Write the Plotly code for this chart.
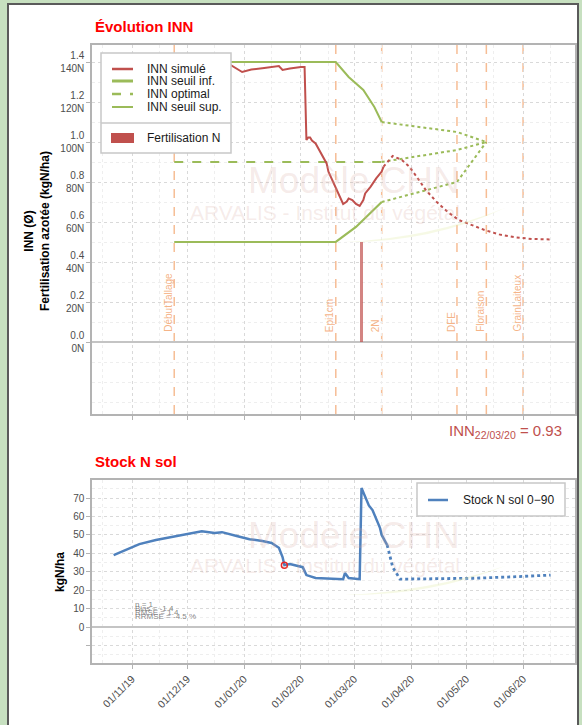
import plotly.graph_objects as go

W, H = 582, 725
def px(x): return x / W
def py(y): return 1 - y / H

FONT = "Liberation Sans, Arial, sans-serif"
RED = "rgb(192,80,77)"
GREEN = "rgb(155,187,89)"
BLUE = "rgb(79,129,189)"
ORANGE = "rgba(244,177,131,0.85)"
TICKC = "#4d4d4d"

# ---------------- data ----------------
stage_names = ["DébutTallage", "Epi1cm", "2N", "DFE", "Floraison", "GrainLaiteux"]
stage_dates = ["2019-11-24", "2020-02-20", "2020-03-16", "2020-04-26", "2020-05-12", "2020-06-01"]

inn_sim_dates = ["2019-11-24", "2019-12-22", "2019-12-31", "2020-01-05", "2020-01-12", "2020-01-20",
                 "2020-01-22", "2020-01-26", "2020-02-01", "2020-02-03", "2020-02-04", "2020-02-05",
                 "2020-02-06", "2020-02-07", "2020-02-09", "2020-02-11", "2020-02-13", "2020-02-15",
                 "2020-02-16", "2020-02-18", "2020-02-20", "2020-02-22", "2020-02-24", "2020-02-26",
                 "2020-02-27", "2020-02-29", "2020-03-02", "2020-03-04", "2020-03-06", "2020-03-07",
                 "2020-03-10", "2020-03-13", "2020-03-16", "2020-03-17"]
inn_sim_values = [1.40, 1.40, 1.35, 1.362, 1.37, 1.38,
                  1.36, 1.368, 1.375, 1.375, 1.01, 1.023,
                  1.023, 1.007, 0.993, 0.96, 0.927, 0.893,
                  0.852, 0.81, 0.768, 0.727, 0.69, 0.702,
                  0.718, 0.71, 0.69, 0.68, 0.71, 0.743,
                  0.777, 0.818, 0.852, 0.877]
inn_fc_dates = ["2020-03-17", "2020-03-22", "2020-03-27", "2020-03-31", "2020-04-04", "2020-04-09",
                "2020-04-15", "2020-04-21", "2020-04-27", "2020-05-05", "2020-05-11", "2020-05-19",
                "2020-05-28", "2020-06-06", "2020-06-16"]
inn_fc_values = [0.877, 0.93, 0.91, 0.877, 0.827, 0.76,
                 0.70, 0.65, 0.61, 0.58, 0.56, 0.538,
                 0.523, 0.515, 0.513]

sup_dates = ["2019-11-24", "2020-02-20", "2020-02-27", "2020-03-06", "2020-03-12", "2020-03-16"]
sup_values = [1.40, 1.40, 1.325, 1.26, 1.175, 1.10]
sup_fc_dates = ["2020-03-16", "2020-04-26", "2020-05-12"]
sup_fc_values = [1.10, 1.05, 1.00]

inf_dates = ["2019-11-24", "2020-02-20", "2020-03-02", "2020-03-16"]
inf_values = [0.50, 0.50, 0.575, 0.70]
inf_fc_dates = ["2020-03-16", "2020-04-26", "2020-05-12"]
inf_fc_values = [0.70, 0.80, 1.00]

opt_dates = ["2019-11-24", "2020-03-16"]
opt_values = [0.90, 0.90]
opt_fc_dates = ["2020-03-16", "2020-04-26", "2020-05-12"]
opt_fc_values = [0.90, 0.96, 1.00]

ferti_dates = ["2020-03-05"]
ferti_N = [50]

inn_ticks = [0.0, 0.2, 0.4, 0.6, 0.8, 1.0, 1.2, 1.4]
inn_ticktext = [f"{v:.1f}<br>{int(round(v * 100))}N" for v in inn_ticks]

inn_current_date = "22/03/20"
inn_current_value = 0.93

stock_dates = ["2019-10-22", "2019-11-05", "2019-11-14", "2019-11-25", "2019-12-02", "2019-12-09",
               "2019-12-16", "2019-12-20", "2019-12-28", "2020-01-04", "2020-01-11", "2020-01-16",
               "2020-01-20", "2020-01-22", "2020-01-23", "2020-01-26", "2020-02-02", "2020-02-04",
               "2020-02-09", "2020-02-24", "2020-02-25", "2020-02-27", "2020-03-04", "2020-03-05",
               "2020-03-09", "2020-03-11", "2020-03-15", "2020-03-16", "2020-03-19"]
stock_values = [39, 45, 47.2, 49.4, 51, 52,
                51, 51.5, 49.4, 47.7, 46.7, 45.6,
                43, 38, 33.6, 34.2, 32.5, 28.2,
                26.6, 26, 29.3, 26.6, 26, 75.4,
                66, 63.5, 54, 50, 44.5]
stock_fc_dates = ["2020-03-19", "2020-03-20", "2020-03-22", "2020-03-26", "2020-04-15", "2020-05-05",
                  "2020-05-25", "2020-06-16"]
stock_fc_values = [44.5, 40.7, 32.5, 26, 26.2, 26.5, 27.2, 28.2]

obs_dates = ["2020-01-23"]
obs_values = [33.6]

stock_ticks = [-10, 0, 10, 20, 30, 40, 50, 60, 70]
stock_ticktext = [" " if v < 0 else str(v) for v in stock_ticks]

stats_lines = ["n = 1", "Bias = -1.4", "RMSE = 1.4", "RRMSE = -4.5 %"]

# ---------------- figure ----------------
fig = go.Figure()

def line(x, y, color, width, dash="solid", xa="x", ya="y"):
    fig.add_trace(go.Scatter(x=x, y=y, mode="lines", xaxis=xa, yaxis=ya, showlegend=False,
                             hoverinfo="skip", line=dict(color=color, width=width, dash=dash)))

# fertilisation bar
fig.add_trace(go.Bar(x=ferti_dates, y=[n / 100 for n in ferti_N], width=[86400000 * 1.1],
                     marker=dict(color="rgba(192,80,77,0.7)", line=dict(width=0)),
                     showlegend=False, xaxis="x", yaxis="y", hoverinfo="skip"))

line(sup_dates, sup_values, GREEN, 2)
line(sup_fc_dates, sup_fc_values, GREEN, 2, "dot")
line(inf_dates, inf_values, GREEN, 2.2)
line(inf_fc_dates, inf_fc_values, GREEN, 2, "dot")
line(opt_dates, opt_values, GREEN, 2, "dash")
line(opt_fc_dates, opt_fc_values, GREEN, 2, "dot")
line(inn_sim_dates, inn_sim_values, RED, 2)
line(inn_fc_dates, inn_fc_values, RED, 2, "dot")

line(stock_dates, stock_values, BLUE, 2.5, xa="x2", ya="y2")
line(stock_fc_dates, stock_fc_values, BLUE, 2.8, "dot", xa="x2", ya="y2")
fig.add_trace(go.Scatter(x=obs_dates, y=obs_values, mode="markers", xaxis="x2", yaxis="y2",
                         showlegend=False, hoverinfo="skip",
                         marker=dict(symbol="circle-open", size=6, color="rgb(230,40,40)",
                                     line=dict(width=1.5))))

shapes = []
annotations = []

# page panel
shapes.append(dict(type="rect", xref="paper", yref="paper", x0=px(8), x1=px(578), y0=py(726), y1=py(4),
                   fillcolor="white", line=dict(color="#5a5a5a", width=2), layer="below"))

# stage lines + labels
for name, d in zip(stage_names, stage_dates):
    shapes.append(dict(type="line", xref="x", yref="y", x0=d, x1=d, y0=-0.36, y1=1.485,
                       line=dict(color=ORANGE, width=1.5, dash="dash"), layer="below"))
    annotations.append(dict(x=d, y=0.04, xref="x", yref="y", text=name, textangle=-90,
                            showarrow=False, xanchor="center", yanchor="bottom", xshift=-6,
                            font=dict(family=FONT, size=10, color="rgba(244,170,120,0.9)")))

# watermarks
for (ym, ya) in [(180, 212), (535, 565)]:
    annotations.append(dict(x=px(462), y=py(ym), xref="paper", yref="paper", text="Modèle CHN",
                            showarrow=False, xanchor="right", yanchor="middle",
                            font=dict(family=FONT, size=37, color="rgba(215,170,160,0.24)")))
    annotations.append(dict(x=px(462), y=py(ya), xref="paper", yref="paper",
                            text="ARVALIS - Institut du végétal",
                            showarrow=False, xanchor="right", yanchor="middle",
                            font=dict(family=FONT, size=21, color="rgba(215,170,160,0.24)")))
for (ys, ye) in [(242, 208), (595, 566)]:
    path = (f"M {px(345):.4f},{py(ys):.4f} Q {px(430):.4f},{py(ys + 1):.4f} {px(505):.4f},{py(ye):.4f} "
            f"Q {px(430):.4f},{py(ys - 4):.4f} {px(345):.4f},{py(ys):.4f} Z")
    shapes.append(dict(type="path", xref="paper", yref="paper", path=path,
                       fillcolor="rgba(230,238,180,0.35)", line=dict(width=0)))

# titles
annotations.append(dict(x=px(93), y=py(27), xref="paper", yref="paper", text="<b>Évolution INN</b>",
                        showarrow=False, xanchor="left", yanchor="middle",
                        font=dict(family=FONT, size=15, color="#ff0000")))
annotations.append(dict(x=px(93), y=py(461), xref="paper", yref="paper", text="<b>Stock N sol</b>",
                        showarrow=False, xanchor="left", yanchor="middle",
                        font=dict(family=FONT, size=15, color="#ff0000")))
annotations.append(dict(x=px(37), y=py(231), xref="paper", yref="paper",
                        text="<b>INN (Ø)</b><br><b>Fertilisation azotée (kgN/ha)</b>", textangle=-90,
                        showarrow=False, xanchor="center", yanchor="middle",
                        font=dict(family=FONT, size=12, color="black")))
annotations.append(dict(x=px(60), y=py(572), xref="paper", yref="paper", text="<b>kgN/ha</b>",
                        textangle=-90, showarrow=False, xanchor="center", yanchor="middle",
                        font=dict(family=FONT, size=12, color="black")))
annotations.append(dict(x=px(564), y=py(431), xref="paper", yref="paper",
                        text=f"INN<sub>{inn_current_date}</sub> = {inn_current_value:.2f}",
                        showarrow=False, xanchor="right", yanchor="middle",
                        font=dict(family=FONT, size=15, color=RED)))

# stats text (overlapping)
for i, s in enumerate(stats_lines):
    annotations.append(dict(x=px(133), y=py(604 + i * 4), xref="paper", yref="paper", text=s,
                            showarrow=False, xanchor="left", yanchor="middle",
                            font=dict(family=FONT, size=8, color="rgba(110,110,110,0.85)")))

# top legend (manual)
shapes.append(dict(type="rect", xref="paper", yref="paper", x0=px(101), x1=px(231), y0=py(153), y1=py(53),
                   fillcolor="white", line=dict(color="#c8c8c8", width=1.5)))
shapes.append(dict(type="line", xref="paper", yref="paper", x0=px(101), x1=px(231), y0=py(123), y1=py(123),
                   line=dict(color="#c8c8c8", width=1.5)))
leg_items = [("INN simulé", RED, 2.5, "solid", 69),
             ("INN seuil inf.", GREEN, 3, "solid", 81),
             ("INN optimal", GREEN, 2.5, "dash", 94),
             ("INN seuil sup.", GREEN, 2, "solid", 107)]
for name, c, w, dsh, yy in leg_items:
    shapes.append(dict(type="line", xref="paper", yref="paper", x0=px(112), x1=px(133), y0=py(yy), y1=py(yy),
                       line=dict(color=c, width=w, dash=dsh)))
    annotations.append(dict(x=px(145), y=py(yy), xref="paper", yref="paper", text=name, showarrow=False,
                            xanchor="left", yanchor="middle", font=dict(family=FONT, size=12, color="#1a1a1a")))
shapes.append(dict(type="rect", xref="paper", yref="paper", x0=px(111), x1=px(134), y0=py(143), y1=py(133),
                   fillcolor=RED, line=dict(width=0)))
annotations.append(dict(x=px(145), y=py(138), xref="paper", yref="paper", text="Fertilisation N", showarrow=False,
                        xanchor="left", yanchor="middle", font=dict(family=FONT, size=12, color="#1a1a1a")))

# bottom legend (manual)
shapes.append(dict(type="rect", xref="paper", yref="paper", x0=px(417), x1=px(565), y0=py(516), y1=py(483),
                   fillcolor="white", line=dict(color="#c8c8c8", width=1.5)))
shapes.append(dict(type="line", xref="paper", yref="paper", x0=px(428), x1=px(448), y0=py(500), y1=py(500),
                   line=dict(color=BLUE, width=2.5)))
annotations.append(dict(x=px(461), y=py(500), xref="paper", yref="paper", text="Stock N sol 0\u221290",
                        showarrow=False, xanchor="left", yanchor="middle",
                        font=dict(family=FONT, size=12, color="#1a1a1a")))

xrange = ["2019-10-10 05:00", "2020-06-29 07:00"]
common_x = dict(type="date", range=xrange, dtick="M1", tick0="2019-11-01",
                showgrid=True, gridcolor="#d9d9d9", griddash="dot", gridwidth=1,
                minor=dict(dtick="M1", tick0="2019-10-16", showgrid=True, gridcolor="#eeeeee", gridwidth=1),
                showline=True, mirror=True, linecolor="#b3b3b3", linewidth=1.5,
                ticks="outside", ticklen=4, tickcolor="#b3b3b3", zeroline=False, automargin=False)
common_y = dict(showline=True, mirror=True, linecolor="#b3b3b3", linewidth=1.5,
                ticks="outside", ticklen=4, tickcolor="#b3b3b3",
                showgrid=True, gridcolor="#d9d9d9", griddash="dot",
                zeroline=True, zerolinecolor="#c4c4c4", zerolinewidth=1.5, automargin=False,
                tickfont=dict(family=FONT, size=10, color=TICKC))

fig.update_layout(
    width=W, height=H, margin=dict(l=0, r=0, t=0, b=0),
    paper_bgcolor="rgb(199,224,192)", plot_bgcolor="white", showlegend=False,
    font=dict(family=FONT),
    bargap=0,
    xaxis=dict(common_x, domain=[px(92), px(575)], anchor="y", showticklabels=False),
    yaxis=dict(common_y, domain=[py(414), py(45)], anchor="x", range=[-0.36, 1.485],
               tickmode="array", tickvals=inn_ticks, ticktext=inn_ticktext,
               minor=dict(dtick=0.1, tick0=0, showgrid=True, gridcolor="#eeeeee")),
    xaxis2=dict(common_x, domain=[px(92), px(575)], anchor="y2", showticklabels=True,
                tickformat="%d/%m/%y", tickangle=-45,
                tickfont=dict(family=FONT, size=10.5, color=TICKC)),
    yaxis2=dict(common_y, domain=[py(663), py(480)], anchor="x2", range=[-19.5, 79.8],
                tickmode="array", tickvals=stock_ticks, ticktext=stock_ticktext,
                minor=dict(dtick=5, tick0=0, showgrid=True, gridcolor="#eeeeee")),
    shapes=shapes, annotations=annotations,
)

fig.write_html("out.html", config={"displayModeBar": False},
               post_script="document.body.style.margin='0';document.body.style.overflow='hidden';")
